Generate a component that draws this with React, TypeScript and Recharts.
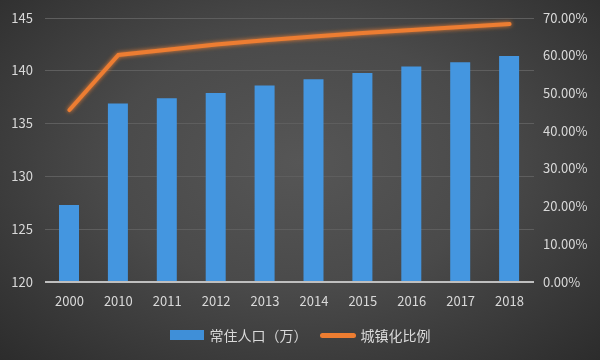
import { ComposedChart, Bar, Line, XAxis, YAxis, CartesianGrid, Legend } from "recharts"

const years = ["2000", "2010", "2011", "2012", "2013", "2014", "2015", "2016", "2017", "2018"]
const population = [127.3, 136.9, 137.4, 137.9, 138.6, 139.2, 139.8, 140.4, 140.8, 141.4]
const urbanRate = [0.456, 0.602, 0.616, 0.63, 0.641, 0.651, 0.66, 0.668, 0.676, 0.684]
const leftTicks = [120, 125, 130, 135, 140, 145]
const rightTicks = [0, 0.1, 0.2, 0.3, 0.4, 0.5, 0.6, 0.7]

const data = years.map((y, i) => ({ year: y, pop: population[i], rate: urbanRate[i] }))

const textColor = "#d9d9d9"
const font = "'Noto Sans CJK SC', 'DejaVu Sans', sans-serif"

const renderLegend = () => (
  <div style={{ display: "flex", justifyContent: "center", alignItems: "center", color: textColor, fontSize: 14, fontFamily: font }}>
    <span style={{ display: "inline-block", width: 34, height: 10, background: "#3f8fd8", marginRight: 6 }} />
    <span style={{ marginRight: 12 }}>常住人口（万）</span>
    <span style={{ display: "inline-block", width: 36, height: 5, borderRadius: 3, background: "#ed7d31", marginRight: 5 }} />
    <span>城镇化比例</span>
  </div>
)

export default function App() {
  return (
    <div
      style={{
        position: "fixed",
        left: 0,
        top: 0,
        width: 600,
        height: 360,
        background: "radial-gradient(ellipse at 50% 45%, #565656 0%, #4a4a4a 45%, #2c2c2c 100%)",
        fontFamily: font,
      }}
    >
      <ComposedChart width={600} height={360} data={data} margin={{ top: 18, right: 0, bottom: 5, left: 0 }}>
        <defs>
          <filter id="glow" x="-20%" y="-20%" width="140%" height="140%">
            <feGaussianBlur stdDeviation="2" result="b" />
            <feMerge>
              <feMergeNode in="b" />
              <feMergeNode in="SourceGraphic" />
            </feMerge>
          </filter>
        </defs>
        <CartesianGrid yAxisId="left" vertical={false} stroke="#5e5e5e" strokeWidth={1} shapeRendering="crispEdges" />
        <XAxis
          dataKey="year"
          axisLine={{ stroke: "#bfbfbf", strokeWidth: 2 }}
          tickLine={false}
          tick={{ fill: textColor, fontSize: 13, fontFamily: font }}
          tickMargin={9}
          height={43}
        />
        <YAxis
          yAxisId="left"
          domain={[120, 145]}
          ticks={leftTicks}
          axisLine={false}
          tickLine={false}
          tickSize={0}
          tickMargin={12}
          width={45}
          tick={{ fill: textColor, fontSize: 13, fontFamily: font }}
        />
        <YAxis
          yAxisId="right"
          orientation="right"
          domain={[0, 0.7]}
          ticks={rightTicks}
          tickFormatter={(v: number) => (v * 100).toFixed(2) + "%"}
          axisLine={false}
          tickLine={false}
          tickSize={0}
          tickMargin={9}
          width={66}
          tick={{ fill: textColor, fontSize: 13, fontFamily: font, textAnchor: "start" }}
        />
        <Bar yAxisId="left" dataKey="pop" name="常住人口（万）" fill="#4496e0" barSize={20} isAnimationActive={false} />
        <Line
          yAxisId="right"
          dataKey="rate"
          name="城镇化比例"
          stroke="#ed7d31"
          strokeWidth={4}
          dot={false}
          type="linear"
          strokeLinecap="round"
          filter="url(#glow)"
          isAnimationActive={false}
        />
        <Legend content={renderLegend} verticalAlign="bottom" height={30} />
      </ComposedChart>
    </div>
  )
}
